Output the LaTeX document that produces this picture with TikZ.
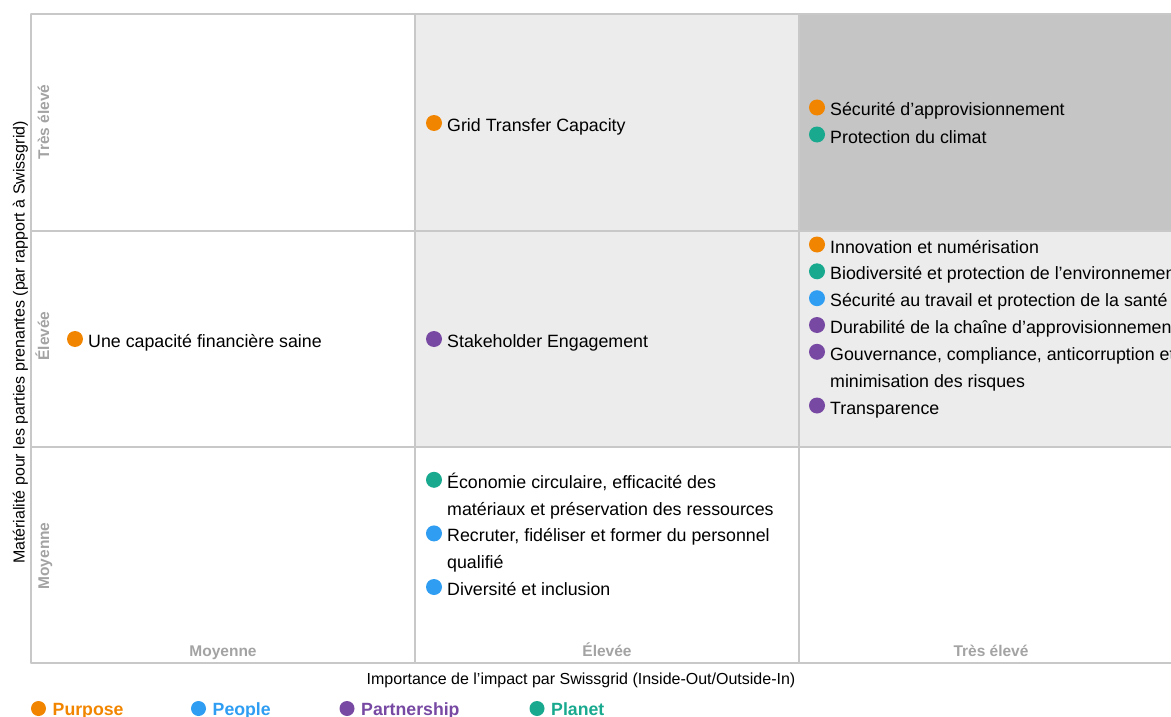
\documentclass[tikz,border=0pt]{standalone}
\usepackage{fontspec}
\setmainfont{Liberation Sans}
\definecolor{purpose}{HTML}{F28500}
\definecolor{people}{HTML}{2E9DF2}
\definecolor{partnership}{HTML}{7749A3}
\definecolor{planet}{HTML}{18A98F}
\definecolor{gridline}{HTML}{C8C8C8}
\definecolor{lightcell}{HTML}{ECECEC}
\definecolor{darkcell}{HTML}{C5C5C5}
\definecolor{levelgray}{HTML}{A3A3A3}
\begin{document}
\begin{tikzpicture}[x=1pt, y=-1pt, line cap=round, line join=round,
	cell/.style={draw=gridline, line width=1.2pt},
	dot/.style={circle, fill=#1, inner sep=0pt, minimum size=16pt},
	item/.style={anchor=base west, inner sep=0pt, align=left, font=\fontsize{17.8}{26.8}\selectfont},
	level/.style={text=levelgray, inner sep=0pt, anchor=base, font=\fontsize{15.5}{18}\selectfont\bfseries},
	axis/.style={inner sep=0pt, anchor=base, font=\fontsize{16}{18}\selectfont},
	key/.style={anchor=base west, inner sep=0pt, text=#1, font=\fontsize{17.7}{20}\selectfont\bfseries}]
	\useasboundingbox (0,0) rectangle (1171,717);
	\clip (0,0) rectangle (1171,717);
	% Cell fills
	\fill [lightcell] (415,14) rectangle (799,447);
	\fill [lightcell] (799,231) rectangle (1183,447);
	\fill [darkcell] (799,14) rectangle (1183,231);
	% Grid lines
	\foreach \x in {31, 415, 799}
		\draw [cell] (\x,14) -- (\x,663);
	\foreach \y in {14, 231, 447, 663}
		\draw [cell] (31,\y) -- (1183,\y);
	% Row levels
	\foreach \a/\y [count=\n] in {Très élevé/122, Élevée/336, Moyenne/556}
		\node [level, rotate=90] (row-\n) at (49,\y) {\a};
	% Column levels
	\foreach \a/\x [count=\n] in {Moyenne/223, Élevée/607, Très élevé/991}
		\node [level] (col-\n) at (\x,656.5) {\a};
	% Axis titles
	\node [axis] (axis-x) at (581,684.3) {Importance de l’impact par Swissgrid (Inside-Out/Outside-In)};
	\node [axis, rotate=90] (axis-y) at (24.5,342.5) {Matérialité pour les parties prenantes (par rapport à Swissgrid)};
	% Topics (y = first baseline, k = extra lines)
	\foreach \c/\x/\y/\k/\t [count=\n] in {
		purpose/434/131.5/0/{Grid Transfer Capacity},
		purpose/817/116/0/{Sécurité d’approvisionnement},
		planet/817/143/0/{Protection du climat},
		purpose/75/347.5/0/{Une capacité financière saine},
		partnership/434/347.5/0/{Stakeholder Engagement},
		purpose/817/253/0/{Innovation et numérisation},
		planet/817/279.8/0/{Biodiversité et protection de l’environnement},
		people/817/306.7/0/{Sécurité au travail et protection de la santé},
		partnership/817/333.5/0/{Durabilité de la chaîne d’approvisionnement},
		partnership/817/360.3/1/{Gouvernance, compliance, anticorruption et\\minimisation des risques},
		partnership/817/414/0/{Transparence},
		planet/434/488.3/1/{Économie circulaire, efficacité des\\matériaux et préservation des ressources},
		people/434/541.9/1/{Recruter, fidéliser et former du personnel\\qualifié},
		people/434/595.5/0/{Diversité et inclusion}} {
		\node [dot=\c] (dot-\n) at (\x,\y-8.5) {};
		\node [item] (item-\n) at (\x+13,\y+26.8*\k) {\t};
	}
	% Legend
	\foreach \c/\x/\a [count=\n] in {purpose/38.5/Purpose, people/198.5/People, partnership/347/Partnership, planet/537/Planet} {
		\node [dot=\c, minimum size=15pt] (key-dot-\n) at (\x,708.5) {};
		\node [key=\c] (key-\n) at (\x+14,715.5) {\a};
	}
\end{tikzpicture}
\end{document}
